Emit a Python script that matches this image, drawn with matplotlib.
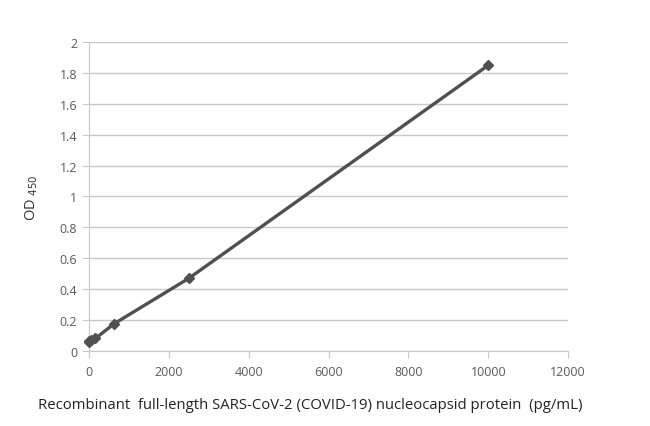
import matplotlib
matplotlib.use("Agg")
import matplotlib.pyplot as plt

conc = [0, 9.8, 39, 156, 625, 2500, 10000]
od = [0.055, 0.065, 0.07, 0.08, 0.175, 0.47, 1.85]
xticks = [0, 2000, 4000, 6000, 8000, 10000, 12000]
yticks = [0, 0.2, 0.4, 0.6, 0.8, 1, 1.2, 1.4, 1.6, 1.8, 2]
ytick_labels = ["0", "0.2", "0.4", "0.6", "0.8", "1", "1.2", "1.4", "1.6", "1.8", "2"]

plt.rcParams['font.family'] = ['Open Sans', 'DejaVu Sans']
fig = plt.figure(figsize=(6.5, 4.27), dpi=100)
ax = fig.add_axes([0.137, 0.176, 0.737, 0.723])
ax.plot(conc, od, color='#505050', lw=2.4, marker='D', ms=5, zorder=3, clip_on=False)
ax.set_xlim(0, 12000)
ax.set_ylim(0, 2)
ax.set_xticks(xticks)
ax.set_xticklabels([str(v) for v in xticks])
ax.set_yticks(yticks)
ax.set_yticklabels(ytick_labels)
ax.grid(axis='y', color='#c8c8c8', lw=1)
ax.set_axisbelow(True)
for s in ['top', 'right']:
    ax.spines[s].set_visible(False)
ax.spines['left'].set_color('#c8c8c8')
ax.spines['bottom'].set_color('#c8c8c8')
ax.tick_params(axis='both', colors='#c8c8c8', labelcolor='#595959', labelsize=9, length=5, direction='out')
ax.tick_params(axis='x', pad=5)
ax.set_xlabel('Recombinant  full-length SARS-CoV-2 (COVID-19) nucleocapsid protein  (pg/mL)', fontsize=10.7, color='#222222', labelpad=14)
ax.xaxis.label.set_x(0.462)
ax.set_ylabel('OD $_{450}$', fontsize=10.5, color='#333333', labelpad=14)
fig.savefig('out.png', dpi=100, facecolor='white')
